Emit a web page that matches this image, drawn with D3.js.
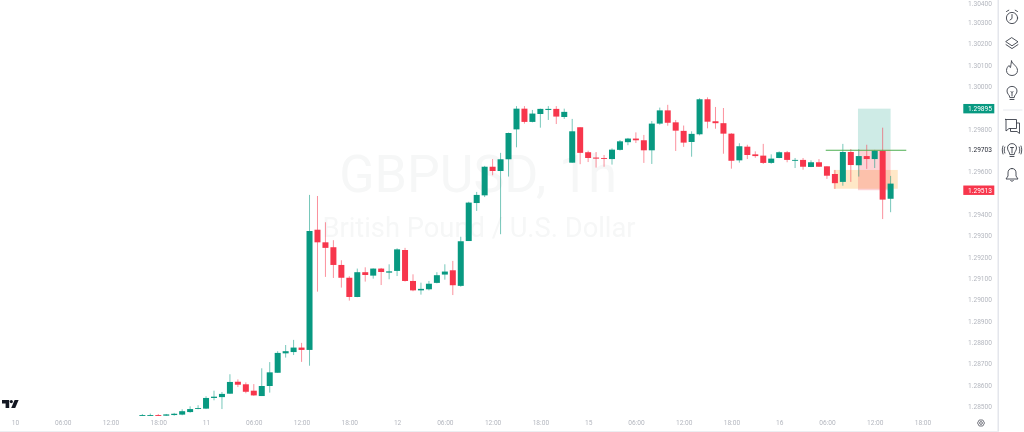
<!DOCTYPE html>
<html><head><meta charset="utf-8">
<script src="https://cdnjs.cloudflare.com/ajax/libs/d3/7.8.5/d3.min.js"></script>
<style>html,body{margin:0;padding:0;background:#fff;overflow:hidden}svg{display:block;filter:blur(0.3px)}</style>
</head><body><svg id="c" width="1024" height="432"></svg>
<script>
const firstHour = 16;
const opens  = [1.28458,1.28456,1.28460,1.28457,1.28460,1.28462,1.28474,1.28490,1.28490,1.28540,1.28544,1.28560,1.28616,1.28604,1.28574,1.28549,1.28596,1.28658,1.28749,1.28755,1.28776,1.28765,1.29328,1.29269,1.29246,1.29163,1.29103,1.29013,1.29129,1.29113,1.29146,1.29127,1.29135,1.29233,1.29088,1.29044,1.29049,1.29079,1.29118,1.29138,1.29065,1.29275,1.29453,1.29489,1.29623,1.29603,1.29658,1.29798,1.29895,1.29833,1.29870,1.29889,1.29894,1.29856,1.29642,1.29808,1.29691,1.29666,1.29664,1.29659,1.29702,1.29738,1.29755,1.29747,1.29700,1.29825,1.29887,1.29831,1.29791,1.29739,1.29775,1.29939,1.29836,1.29827,1.29778,1.29653,1.29717,1.29681,1.29675,1.29641,1.29664,1.29691,1.29651,1.29655,1.29622,1.29644,1.29625,1.29589,1.29552,1.29692,1.29630,1.29673,1.29659,1.29698,1.29473];
const highs  = [1.28465,1.28467,1.28465,1.28465,1.28470,1.28487,1.28501,1.28506,1.28548,1.28574,1.28568,1.28651,1.28627,1.28613,1.28605,1.28679,1.28708,1.28759,1.28788,1.28812,1.28798,1.29491,1.29486,1.29363,1.29279,1.29185,1.29110,1.29146,1.29152,1.29147,1.29149,1.29166,1.29241,1.29243,1.29119,1.29080,1.29088,1.29129,1.29166,1.29182,1.29295,1.29459,1.29505,1.29627,1.29659,1.29688,1.29783,1.29907,1.29907,1.29889,1.29895,1.29907,1.29907,1.29895,1.29847,1.29808,1.29698,1.29692,1.29678,1.29709,1.29748,1.29758,1.29784,1.29772,1.29837,1.29900,1.29913,1.29842,1.29816,1.29789,1.29944,1.29948,1.29903,1.29898,1.29780,1.29733,1.29726,1.29695,1.29730,1.29681,1.29695,1.29697,1.29664,1.29664,1.29653,1.29659,1.29625,1.29608,1.29730,1.29706,1.29705,1.29726,1.29702,1.29806,1.29580];
const lows   = [1.28456,1.28455,1.28451,1.28456,1.28457,1.28459,1.28471,1.28487,1.28488,1.28529,1.28488,1.28559,1.28591,1.28562,1.28550,1.28549,1.28565,1.28658,1.28729,1.28741,1.28709,1.28691,1.29038,1.29107,1.29102,1.29057,1.28996,1.29012,1.29085,1.29099,1.29069,1.29096,1.29111,1.29085,1.29040,1.29024,1.29044,1.29077,1.29094,1.29022,1.29061,1.29275,1.29416,1.29481,1.29583,1.29307,1.29577,1.29714,1.29825,1.29831,1.29806,1.29842,1.29823,1.29847,1.29642,1.29635,1.29645,1.29619,1.29623,1.29633,1.29699,1.29724,1.29734,1.29641,1.29636,1.29820,1.29815,1.29697,1.29716,1.29670,1.29770,1.29803,1.29801,1.29684,1.29614,1.29642,1.29659,1.29665,1.29636,1.29637,1.29663,1.29644,1.29617,1.29609,1.29621,1.29622,1.29566,1.29519,1.29534,1.29552,1.29577,1.29613,1.29617,1.29378,1.29410];
const closes = [1.28460,1.28460,1.28456,1.28463,1.28466,1.28478,1.28488,1.28493,1.28540,1.28546,1.28559,1.28615,1.28602,1.28569,1.28552,1.28596,1.28660,1.28751,1.28759,1.28776,1.28765,1.29322,1.29269,1.29243,1.29163,1.29103,1.29013,1.29129,1.29116,1.29146,1.29130,1.29133,1.29236,1.29088,1.29044,1.29051,1.29075,1.29115,1.29132,1.29068,1.29274,1.29455,1.29491,1.29623,1.29603,1.29658,1.29781,1.29895,1.29833,1.29872,1.29894,1.29894,1.29858,1.29880,1.29789,1.29688,1.29664,1.29661,1.29661,1.29703,1.29742,1.29755,1.29747,1.29700,1.29825,1.29887,1.29829,1.29792,1.29736,1.29777,1.29939,1.29834,1.29827,1.29778,1.29651,1.29719,1.29678,1.29673,1.29641,1.29661,1.29691,1.29655,1.29655,1.29623,1.29644,1.29623,1.29581,1.29546,1.29692,1.29631,1.29673,1.29659,1.29698,1.29469,1.29544];
const priceTicks = [1.285,1.286,1.287,1.288,1.289,1.29,1.291,1.292,1.293,1.294,1.296,1.298,1.30,1.301,1.302,1.303,1.304];
const timeLabels = ["10","06:00","12:00","18:00","11","06:00","12:00","18:00","12","06:00","12:00","18:00","15","06:00","12:00","18:00","16","06:00","12:00","18:00"];
const takeProfit = 1.29895, entry = 1.29703, stopLoss = 1.29513;
const posStart = 105.9, posEnd = 110;
const lineStart = 101.85, lineEnd = 111.97;
const zoneStart = 102.85, zoneEnd = 110.9, zoneHigh = 1.29608, zoneLow = 1.2952;
const title = "GBPUSD, 1h", subtitle = "British Pound / U.S. Dollar";

const UP = "#089981", DOWN = "#f7364c", FONT = "Roboto, sans-serif";
const x = d3.scaleLinear().domain([0, 124.37]).range([15, 1005]);
const y = d3.scaleLinear().domain([1.285, 1.304]).range([406.5, 0.85]);
const svg = d3.select("#c");
svg.append("defs").append("clipPath").attr("id","plot").append("rect").attr("x",0).attr("y",0).attr("width",997).attr("height",416);
const plot = svg.append("g").attr("clip-path","url(#plot)");

plot.append("text").attr("x",478).attr("y",192).attr("text-anchor","middle")
  .attr("font-family",FONT).attr("font-size",52).attr("fill","#f6f7f7").text(title);
plot.append("text").attr("x",479).attr("y",237).attr("text-anchor","middle")
  .attr("font-family",FONT).attr("font-size",27.3).attr("fill","#f6f7f7").text(subtitle);

const candles = opens.map((o,i)=>({h:firstHour+i,o,hi:highs[i],lo:lows[i],c:closes[i]}));
const colour = d => d.c>=d.o ? UP : DOWN;

plot.append("rect").attr("x",x(zoneStart)).attr("width",x(zoneEnd)-x(zoneStart)).attr("y",y(zoneHigh)).attr("height",y(zoneLow)-y(zoneHigh)).attr("fill","rgba(255,152,0,0.22)");
plot.append("rect").attr("x",x(posStart)).attr("width",x(posEnd)-x(posStart)).attr("y",y(takeProfit)).attr("height",y(entry)-y(takeProfit)).attr("fill","rgba(8,153,129,0.2)");
plot.append("rect").attr("x",x(posStart)).attr("width",x(posEnd)-x(posStart)).attr("y",y(entry)).attr("height",y(stopLoss)-y(entry)).attr("fill","rgba(242,54,69,0.22)");

const c = plot.selectAll("g.c").data(candles).join("g").attr("class","c");
c.append("line").attr("x1",d=>x(d.h)).attr("x2",d=>x(d.h)).attr("y1",d=>y(d.hi)).attr("y2",d=>y(d.lo))
  .attr("stroke",colour).attr("stroke-width",1).attr("stroke-opacity",0.55);
c.append("rect").attr("x",d=>x(d.h)-3).attr("width",6)
  .attr("y",d=>y(Math.max(d.o,d.c))).attr("height",d=>Math.max(0.9,Math.abs(y(d.o)-y(d.c))))
  .attr("fill",colour);

plot.append("line").attr("x1",x(lineStart)).attr("x2",x(lineEnd)).attr("y1",y(entry)+0.6).attr("y2",y(entry)+0.6).attr("stroke","#4caf50").attr("stroke-width",1);

// price axis
const yAxis = svg.append("g").attr("transform","translate(992,0)")
  .call(d3.axisLeft(y).tickValues(priceTicks.slice(0,-1)).tickFormat(d3.format(".5f")).tickSize(0).tickPadding(0));
yAxis.select(".domain").remove();
yAxis.selectAll("text").attr("font-family",FONT).attr("font-size",6.6).attr("fill","#b4b7bf");
// topmost tick sits right on the window edge in the reference; nudged just inside so it stays whole
svg.append("text").attr("x",992).attr("y",6).attr("text-anchor","end").attr("font-family",FONT).attr("font-size",6.6).attr("fill","#b4b7bf").text(d3.format(".5f")(priceTicks[priceTicks.length-1]));

function tag(v,bg,fg){
  const g = svg.append("g").attr("transform",`translate(963.3,${y(v)})`);
  g.append("rect").attr("y",-4.7).attr("width",31).attr("height",9.4).attr("fill",bg);
  g.append("text").attr("x",28.7).attr("y",2.3).attr("text-anchor","end").attr("font-family",FONT).attr("font-size",6.6).attr("fill",fg).text(d3.format(".5f")(v));
}
tag(takeProfit,UP,"#fff"); tag(stopLoss,"#f7364c","#fff");
svg.append("text").attr("x",992).attr("y",y(entry)+2).attr("text-anchor","end").attr("font-family",FONT).attr("font-size",6.6).attr("fill","#2a2e39").text(d3.format(".5f")(entry));

// time axis
const tx = d3.scalePoint().domain(d3.range(timeLabels.length)).range([x(0),x(114)]);
const xAxis = svg.append("g").attr("transform","translate(0,423)")
  .call(d3.axisBottom(tx).tickFormat(i=>timeLabels[i]).tickSize(0).tickPadding(0));
xAxis.select(".domain").remove();
xAxis.selectAll("text").attr("dy","0.33em").attr("y",0).attr("font-family",FONT).attr("font-size",6.6).attr("fill","#b4b7bf");

// frame
svg.append("rect").attr("x",997.5).attr("y",0).attr("width",1.5).attr("height",432).attr("fill","#e4e6ec");
svg.append("rect").attr("x",0).attr("y",431).attr("width",999).attr("height",1).attr("fill","#eceef2");

// logo
const logo = svg.append("g").attr("fill","#131722");
logo.append("path").attr("d","M2 400H9.2V408H5.6V403.4H2Z");
logo.append("circle").attr("cx",11.3).attr("cy",401.6).attr("r",1.6);
logo.append("path").attr("d","M14.6 400H18.6L15.2 408H11.2Z");

// settings
const st = svg.append("g").attr("fill","none").attr("stroke","#50535e").attr("stroke-width",0.8);
st.append("path").attr("d","M977.5 423L979.2 420H982.8L984.5 423L982.8 426H979.2Z");
st.append("circle").attr("cx",981).attr("cy",423).attr("r",1.4);

// sidebar icons
const ic = svg.append("g").attr("fill","none").attr("stroke","#3b3f4a").attr("stroke-width",0.9).attr("stroke-linejoin","round").attr("stroke-linecap","round");
ic.append("circle").attr("cx",1012).attr("cy",18).attr("r",5.6);
ic.append("path").attr("d","M1012 14.5V18.5L1010 20M1006.5 11.5L1008.8 10.2M1017.5 11.5L1015.2 10.2");
ic.append("path").attr("d","M1012 37.8L1018 41.8L1012 45.8L1006 41.8ZM1006 44.6L1012 48.6L1018 44.6");
ic.append("path").attr("d","M1011.5 61C1012 64 1017.5 66 1017.5 70.5C1017.5 73.5 1015 75.5 1012 75.5C1009 75.5 1006.5 73.5 1006.5 70.5C1006.5 68 1008 66.5 1009 65.5C1009.3 67 1010 67.5 1010.5 67.5C1011 65.5 1011 63 1011.5 61Z");
ic.append("path").attr("d","M1009.8 97.2C1009.8 94.8 1007 94.3 1007 91C1007 88.2 1009.3 86.4 1012 86.4C1014.7 86.4 1017 88.2 1017 91C1017 94.3 1014.2 94.8 1014.2 97.2ZM1010 99.5H1014M1011 91.5L1012 92.5L1013 91.5M1012 92.5V96");
ic.append("line").attr("x1",1003.5).attr("x2",1022).attr("y1",110).attr("y2",110).attr("stroke","#e4e6ec");
ic.append("path").attr("d","M1005.5 119.5H1016.5V128.5H1009L1006 131V119.5ZM1016.5 123H1019.5V133.5L1017 131.5H1010.5V128.5");
ic.append("path").attr("d","M1009.8 154.2C1009.8 152 1007.5 151 1007.5 148C1007.5 145.3 1009.6 143.6 1012 143.6C1014.4 143.6 1016.5 145.3 1016.5 148C1016.5 151 1014.2 152 1014.2 154.2ZM1010 156.5H1014M1010.5 147.5H1013.5M1012 147.5V153M1004.8 147C1004 149 1004 151 1004.8 153M1003 146C1002 148.5 1002 151 1003 154M1019.2 147C1020 149 1020 151 1019.2 153M1021 146C1022 148.5 1022 151 1021 154");
ic.append("path").attr("d","M1012 168.5C1009 168.5 1008 170.5 1008 173V176L1006 179H1018L1016 176V173C1016 170.5 1015 168.5 1012 168.5ZM1010.5 180.5C1011 181.5 1013 181.5 1013.5 180.5");
</script></body></html>
